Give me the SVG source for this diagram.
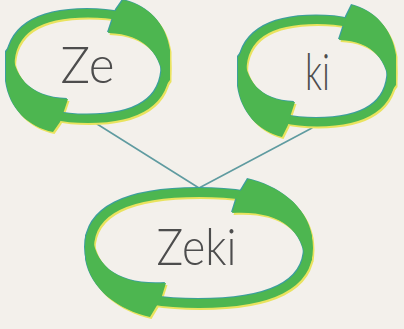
<svg xmlns="http://www.w3.org/2000/svg" xmlns:xlink="http://www.w3.org/1999/xlink" width="404" height="329" viewBox="0 0 404 329">
<style>
.bg{fill:#f3f0eb}
.rim{fill:#3c9f9c;stroke:#3c9f9c}
.shade{fill:#e9e35e;stroke:#e9e35e}
.green{fill:#4db650;stroke:#4db650}
.label{font-family:Lato,"Open Sans","DejaVu Sans",sans-serif;font-weight:300;font-size:52px;fill:#4d4d4d;text-anchor:middle}
.conn{stroke:#5f9ba0;stroke-width:1.6;fill:none;stroke-linecap:round}
</style>
<defs>
<g id="shape-ze">
<path fill="none" stroke-width="8.5" d="M77.75,0 C77.75,34.8 51.3,52.75 0,52.75 C-51.3,52.75 -77.75,34.8 -77.75,0 C-77.75,-34.8 -51.3,-52.75 0,-52.75 C51.3,-52.75 77.75,-34.8 77.75,0 Z"/>
<path stroke="none" d="M28,-56 L35,-66 C59,-61 78,-44 82,-16 L82,14 L76,22 C76,-10 58,-32 20,-33 L25,-48 Z"/>
<path stroke="none" transform="rotate(180)" d="M28,-56 L35,-66 C59,-61 78,-44 82,-16 L82,14 L76,22 C76,-10 58,-32 20,-33 L25,-48 Z"/>
</g>
<g id="shape-ki">
<path fill="none" stroke-width="8.5" d="M74.75,0 C74.75,33.8 49.3,51.25 0,51.25 C-49.3,51.25 -74.75,33.8 -74.75,0 C-74.75,-33.8 -49.3,-51.25 0,-51.25 C49.3,-51.25 74.75,-33.8 74.75,0 Z"/>
<path stroke="none" d="M29,-54 L35,-66 C58,-60 75,-43 79,-16 L79,14 L73,22 C73,-10 56,-30 22,-31 L27,-46 Z"/>
<path stroke="none" transform="rotate(180)" d="M29,-54 L35,-66 C58,-60 75,-43 79,-16 L79,14 L73,22 C73,-10 56,-30 22,-31 L27,-46 Z"/>
</g>
<g id="shape-zeki">
<path fill="none" stroke-width="9" d="M109.5,0 C109.5,36.6 72.3,55.5 0,55.5 C-72.3,55.5 -109.5,36.6 -109.5,0 C-109.5,-36.6 -72.3,-55.5 0,-55.5 C72.3,-55.5 109.5,-36.6 109.5,0 Z"/>
<path stroke="none" d="M43,-59 L49,-69 C80,-62 108,-42 113,-12 L113,12 L107,18 C106,-20 78,-38 33,-35 L38,-51 Z"/>
<path stroke="none" transform="rotate(180)" d="M43,-59 L49,-69 C80,-62 108,-42 113,-12 L113,12 L107,18 C106,-20 78,-38 33,-35 L38,-51 Z"/>
</g>
</defs>
<rect class="bg" x="0" y="0" width="404" height="329"/>
<g id="connectors">
<line class="conn" x1="97" y1="124" x2="199" y2="188"/>
<line class="conn" x1="312" y1="128" x2="199" y2="188"/>
</g>
<g id="node-ze" transform="translate(88,66)">
<use xlink:href="#shape-ze" class="shade" transform="translate(1.5,2)"/>
<use xlink:href="#shape-ze" class="rim" transform="translate(-1,-1)"/>
<use xlink:href="#shape-ze" class="green"/>
<text class="label" x="-0.5" y="17" textLength="54" lengthAdjust="spacingAndGlyphs">Ze</text>
</g>
<g id="node-ki" transform="translate(317,71)">
<use xlink:href="#shape-ki" class="shade" transform="translate(1.5,2)"/>
<use xlink:href="#shape-ki" class="rim" transform="translate(-1,-1)"/>
<use xlink:href="#shape-ki" class="green"/>
<text class="label" x="0.5" y="19" textLength="25" lengthAdjust="spacingAndGlyphs">ki</text>
</g>
<g id="node-zeki" transform="translate(199,248)">
<use xlink:href="#shape-zeki" class="shade" transform="translate(1.5,2)"/>
<use xlink:href="#shape-zeki" class="rim" transform="translate(-1,-1)"/>
<use xlink:href="#shape-zeki" class="green"/>
<text class="label" x="-2.5" y="17" textLength="80" lengthAdjust="spacingAndGlyphs">Zeki</text>
</g>
</svg>
